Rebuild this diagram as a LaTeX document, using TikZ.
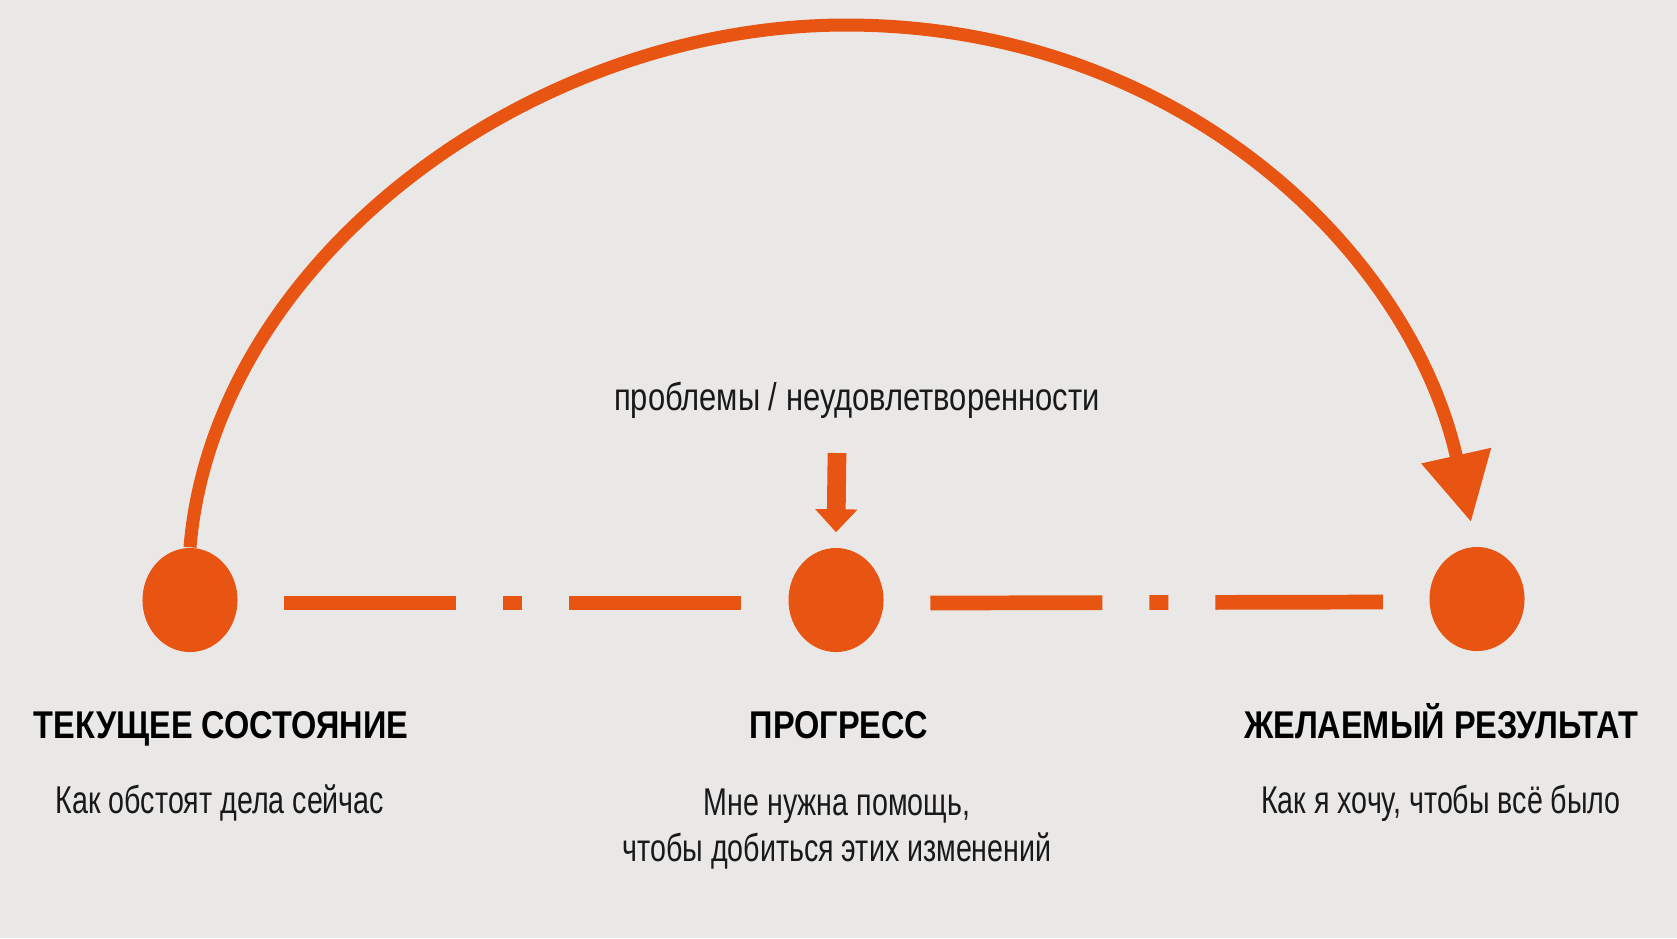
\documentclass[tikz,border=0pt]{standalone}
\usepackage{fontspec}
\setmainfont{Liberation Sans}
\newfontfamily\narrowfont[FakeStretch=0.74]{Liberation Sans}
\newfontfamily\labelfont[FakeStretch=0.80]{Liberation Sans}
\newfontfamily\narrowbold[FakeStretch=0.84]{Liberation Sans Bold}
\usepackage{tikz}
\usetikzlibrary{arrows.meta,shapes.geometric,positioning}
\definecolor{orng}{HTML}{E85412}
\definecolor{paper}{HTML}{E9E8E7}

\begin{document}
\begin{tikzpicture}[x=0.01cm,y=-0.01cm,
    statedot/.style={ellipse,fill=orng,minimum width=0.95cm,minimum height=1.04cm,inner sep=0pt},
    title/.style={font=\narrowbold\fontsize{11}{13}\selectfont,text=black,anchor=base,inner sep=0pt},
    sub/.style={font=\narrowfont\fontsize{11}{13}\selectfont,text=black!90,anchor=base,inner sep=0pt},
    trail/.style={orng,line width=0.147cm,dash pattern=on 1.72cm off 0.47cm on 0.19cm off 0.47cm on 1.72cm off 3cm},
    bigarrow/.style={orng,line width=0.13cm,-{Triangle[length=0.68cm,width=0.68cm]}},
    smallarrow/.style={orng,line width=0.187cm,-{Triangle[length=0.23cm,width=0.41cm]}}]
                      \fill[paper] (0,0) rectangle (1677,938);
                      \node[statedot](cur)at(190,600){};
                      \node[statedot](prog)at(836,600){};
                      \node[statedot](res)at(1477,599){};
                      \coordinate (arctop) at (846,25);
                      \coordinate (tip) at (1471,522);
                      \draw[bigarrow] (cur.north) .. controls +(24,-287) and +(-316,0) .. (arctop)
                                                 .. controls +(330,0) and +(-61,-273) .. (tip);
                      \draw[trail] ([xshift=0.46cm,yshift=-0.03cm]cur.east) -- ([xshift=-0.47cm,yshift=-0.03cm]prog.west);
                      \draw[trail] ([xshift=0.46cm,yshift=-0.03cm]prog.east) -- ([xshift=-0.46cm,yshift=-0.03cm]res.west);
                      \node[sub,font=\labelfont\fontsize{11}{13}\selectfont](prob)at(857,410){проблемы / неудовлетворенности};
                      \coordinate (probfoot) at (837,453);
                      \draw[smallarrow] (probfoot) -- ([yshift=0.15cm]prog.north);
                      \node[title](curtitle)at(221,738){ТЕКУЩЕЕ СОСТОЯНИЕ};
                      \node[title](progtitle)at(839,738){ПРОГРЕСС};
                      \node[title](restitle)at(1441,738){ЖЕЛАЕМЫЙ РЕЗУЛЬТАТ};
                      \node[sub](cursub)at(220,813){Как обстоят дела сейчас};
                      \node[sub](progsub)at(837,815){Мне нужна помощь,};
                      \node[sub](progsub2)at([yshift=-0.46cm]progsub.base){чтобы добиться этих изменений};
                      \node[sub](ressub)at(1441,813){Как я хочу, чтобы всё было};
                  \end{tikzpicture}
\end{document}
